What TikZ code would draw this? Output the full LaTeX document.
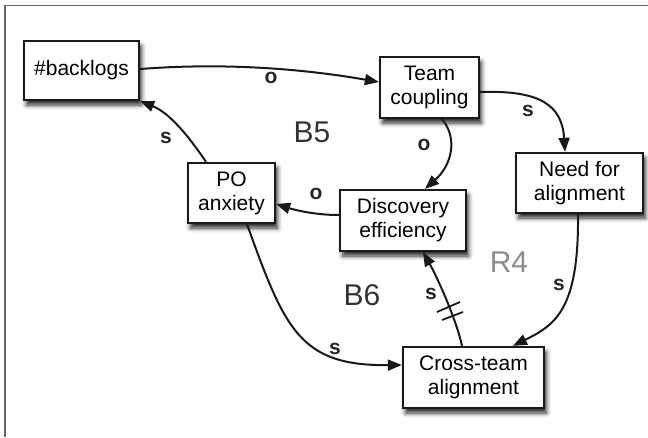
\documentclass[tikz,border=0pt]{standalone}
\usepackage{fontspec}
\setmainfont{Liberation Sans}
\usetikzlibrary{arrows.meta,shadows.blur,calc}
\begin{document}
\begin{tikzpicture}[x=1pt,y=-1pt,
  box/.style={draw=black!90, line width=2.3pt, fill=white, align=center,
    font=\fontsize{21}{24}\selectfont, inner sep=0pt,
    blur shadow={shadow xshift=2.5pt,shadow yshift=-5pt,shadow blur radius=4.5pt,shadow opacity=85}},
  link/.style={draw=black!90, line width=2pt, -{Triangle[length=14pt,width=11pt]}},
  lbl/.style={font=\fontsize{21}{24}\selectfont\bfseries, text=black!85},
  loopname/.style={font=\fontsize{30}{33}\selectfont, text=black!80},
  delaybar/.style={draw=black!90, line width=1.8pt}]
\useasboundingbox (0,0) rectangle (648,437);
\draw[black!60, line width=1.6pt] (4.7,437) -- (4.7,5.3) -- (648,5.3);

\node[box, minimum width=115pt, minimum height=59pt] (backlogs) at (81.5,70.5) {\#backlogs};
\node[box, minimum width=99pt, minimum height=61pt] (team) at (429.5,87.5) {Team\\coupling};
\node[box, minimum width=127pt, minimum height=60pt] (need) at (579.5,183) {Need for\\alignment};
\node[box, minimum width=87pt, minimum height=60pt] (po) at (231.5,193) {PO\\anxiety};
\node[box, minimum width=126pt, minimum height=61pt] (disc) at (403,220.5) {Discovery\\efficiency};
\node[box, minimum width=141pt, minimum height=61pt] (cross) at (473.5,377.5) {Cross-team\\alignment};

\draw[link] ([yshift=1.5pt]backlogs.east) .. controls (230,62) and (310,70) .. ([yshift=5.5pt]team.west);
\draw[link] ([xshift=12.5pt]team.south) .. controls (458,138) and (452,165) .. ([xshift=22pt]disc.north);
\draw[link] ([yshift=-4.5pt]team.east) .. controls (540,90) and (562,105) .. ([xshift=-14.5pt]need.north);
\draw[link] ([xshift=-1.5pt]need.south) .. controls (579,310) and (555,325) .. ([xshift=39.5pt]cross.north);
\draw[link] ([xshift=-11.5pt]cross.north) .. controls (456,318) and (436,275) .. ([xshift=20pt]disc.south);
\draw[link] ([yshift=5.5pt]disc.west) .. controls (315,215) and (295,210) .. ([yshift=-11pt]po.east);
\draw[link] ([xshift=-25.5pt]po.north) .. controls (190,138) and (170,113) .. (backlogs.south east);
\draw[link] ([xshift=15.5pt]po.south) .. controls (285,330) and (300,366) .. ([yshift=12.5pt]cross.west);

\draw[delaybar] (437,312) -- (460,302);
\draw[delaybar] (442,320) -- (463,312);

\node[lbl] (l1) at (271,78) {o};
\node[lbl] (l2) at (166,138) {s};
\node[lbl] (l3) at (424,145) {o};
\node[lbl] (l4) at (528,111) {s};
\node[lbl] (l5) at (316,194) {o};
\node[lbl] (l6) at (431,294) {s};
\node[lbl] (l7) at (559,285) {s};
\node[lbl] (l8) at (335,349) {s};

\node[loopname] (b5) at (312,132) {B5};
\node[loopname] (b6) at (362,295) {B6};
\node[loopname, text=black!45] (r4) at (509,262) {R4};
\end{tikzpicture}
\end{document}
